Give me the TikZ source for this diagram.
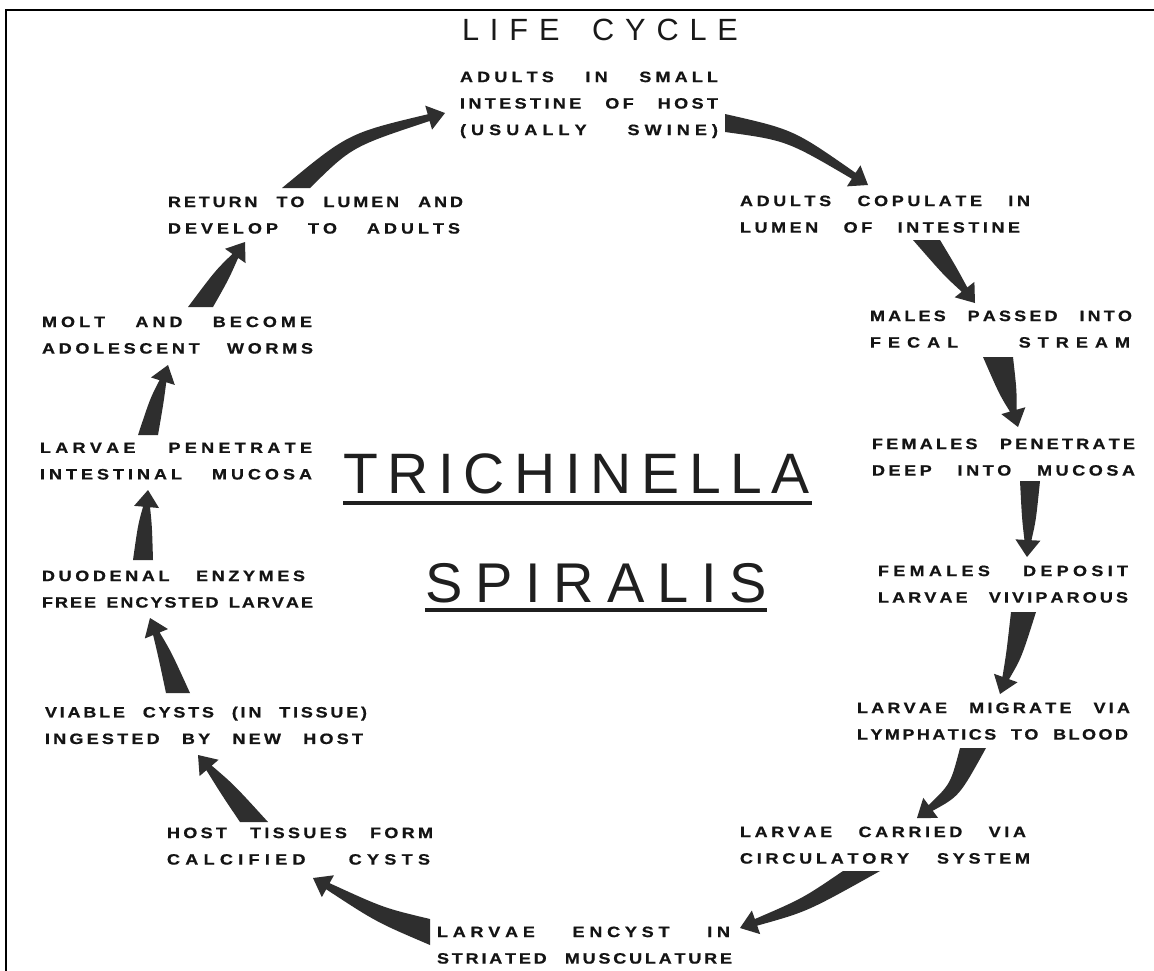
\documentclass[tikz,border=0pt]{standalone}
\usepackage{fontspec}
\setmainfont{Liberation Sans}
\newfontfamily\lblfont{Liberation Sans}[FakeStretch=1.2, BoldFeatures={FakeBold=0.8}]
\usetikzlibrary{calc}

\ExplSyntaxOn
\seq_new:N \l__my_words_seq
\skip_new:N \l__my_lg_skip
\skip_new:N \l__my_wg_skip
\NewDocumentCommand \sline { O{1.6pt~plus~0.3fil} O{6pt~plus~3fil} m m }
  {
    \skip_set:Nn \l__my_lg_skip {#1}
    \skip_set:Nn \l__my_wg_skip {#2}
    \seq_set_split:Nnn \l__my_words_seq {~} {#4}
    \hbox_to_wd:nn {#3}
      {
        \seq_map_indexed_inline:Nn \l__my_words_seq
          {
            \int_compare:nNnT {##1} > {1} { \skip_horizontal:N \l__my_wg_skip }
            \tl_map_inline:nn {##2} { ####1 \skip_horizontal:N \l__my_lg_skip }
            \unskip
          }
      }
  }
\ExplSyntaxOff

\newcommand\labeltext[1]{\vbox{\baselineskip=26.5pt\lineskiplimit=-20pt #1}}

% #1 tail corner (left of travel), #2 tail corner (right), #3 bend control, #4 tip, #5 mid half width
\newcommand\fatarrow[5]{%
  \coordinate (tc) at ($(#1)!0.5!(#2)$);
  \coordinate (nk) at ($(#4)!17pt!(#3)$);
  \fill[fat] (#1)
     .. controls ($(#3)!#5!90:(nk)$) .. ($(nk)!3.5pt!90:(#4)$)
     -- ($(nk)!12.5pt!90:(#4)$) -- (#4) -- ($(nk)!12.5pt!-90:(#4)$)
     -- ($(nk)!3.5pt!-90:(#4)$)
     .. controls ($(#3)!#5!-90:(nk)$) .. (#2) -- cycle;
}

\tikzset{
  lbl/.style={anchor=north west, inner sep=0pt, outer sep=0pt,
    font=\lblfont\fontsize{15}{26.5}\selectfont\bfseries, text=black!92},
  ttl/.style={anchor=base west, inner sep=0pt, outer sep=0pt,
    font=\fontsize{30.7}{36}\selectfont, text=black!90},
  big/.style={anchor=base west, inner sep=0pt, outer sep=0pt,
    font=\fontsize{57}{64}\selectfont, text=black!88},
  uline/.style={line width=4pt, black!88},
  fat/.style={fill=black!82},
  frame/.style={line width=2pt, black},
}

\begin{document}
\begin{tikzpicture}[x=1pt, y=-1pt]
\useasboundingbox (0,0) rectangle (1154,970);
\fill[white] (0,0) rectangle (1154,970);
\draw[frame] (5.7,975) -- (5.7,10.3) -- (1160,10.3);

% titles
\node[ttl] (life) at (462,40) {\sline[0pt plus 1fil][0pt plus 3fil]{276pt}{LIFE CYCLE}};
\node[big] (tri) at (343,493) {\sline[0pt plus 1fil][0pt]{467pt}{TRICHINELLA}};
\node[big, font=\fontsize{56}{64}\selectfont] (spi) at (425,602) {\sline[0pt plus 1fil][0pt]{342pt}{SPIRALIS}};
\draw[uline] ($(tri.base west)+(0,10)$) -- ($(tri.base east)+(2,10)$);
\draw[uline] ($(spi.base west)+(0,8)$) -- ($(spi.base east)+(0,8)$);

% labels
\node[lbl] (adults) at (460,71.6) {\labeltext{\sline{258pt}{ADULTS IN SMALL}\sline{258pt}{INTESTINE OF HOST}\sline{258pt}{(USUALLY SWINE)}}};
\node[lbl] (copul) at (740,195.6) {\labeltext{\sline{290pt}{ADULTS COPULATE IN}\sline{280pt}{LUMEN OF INTESTINE}}};
\node[lbl] (males) at (870,310.6) {\labeltext{\sline{262pt}{MALES PASSED INTO}\sline{260pt}{FECAL STREAM}}};
\node[lbl] (fpen) at (872,438.6) {\labeltext{\sline{263pt}{FEMALES PENETRATE}\sline{263pt}{DEEP INTO MUCOSA}}};
\node[lbl] (fdep) at (878,565.6) {\labeltext{\sline{250pt}{FEMALES DEPOSIT}\sline{250pt}{LARVAE VIVIPAROUS}}};
\node[lbl] (migr) at (857,702.6) {\labeltext{\sline{273pt}{LARVAE MIGRATE VIA}\sline{271pt}{LYMPHATICS TO BLOOD}}};
\node[lbl] (carr) at (740,826.6) {\labeltext{\sline{286pt}{LARVAE CARRIED VIA}\sline{290pt}{CIRCULATORY SYSTEM}}};
\node[lbl] (ency) at (437,926.6) {\labeltext{\sline{293pt}{LARVAE ENCYST IN}\sline{295pt}{STRIATED MUSCULATURE}}};
\node[lbl] (host) at (167,827.6) {\labeltext{\sline{266pt}{HOST TISSUES FORM}\sline{263pt}{CALCIFIED CYSTS}}};
\node[lbl] (viab) at (45,706.6) {\labeltext{\sline{322pt}{VIABLE CYSTS (IN TISSUE)}\sline{318pt}{INGESTED BY NEW HOST}}};
\node[lbl] (duod) at (42,570.6) {\labeltext{\sline{263pt}{DUODENAL ENZYMES}\sline{271pt}{FREE ENCYSTED LARVAE}}};
\node[lbl] (lpen) at (40,442.6) {\labeltext{\sline{272pt}{LARVAE PENETRATE}\sline{272pt}{INTESTINAL MUCOSA}}};
\node[lbl] (molt) at (42,316.6) {\labeltext{\sline{270pt}{MOLT AND BECOME}\sline{271pt}{ADOLESCENT WORMS}}};
\node[lbl] (retu) at (168,196.6) {\labeltext{\sline{295pt}{RETURN TO LUMEN AND}\sline{292pt}{DEVELOP TO ADULTS}}};

% arrow tails (a = left of travel, b = right), bend controls and tips
\coordinate (a1a) at (282,188);  \coordinate (a1b) at (310,188);  \coordinate (a1c) at (350,140);  \coordinate (a1h) at (445,113);
\coordinate (a2a) at (725,114);  \coordinate (a2b) at (725,132);  \coordinate (a2c) at (790,135);  \coordinate (a2h) at (868,185);
\coordinate (a3a) at (940,240);  \coordinate (a3b) at (913,240);  \coordinate (a3c) at (950,271);  \coordinate (a3h) at (975,303);
\coordinate (a4a) at (1013,357); \coordinate (a4b) at (983,357);  \coordinate (a4c) at (1008,392); \coordinate (a4h) at (1018,427);
\coordinate (a5a) at (1040,481); \coordinate (a5b) at (1020,481); \coordinate (a5c) at (1029,520); \coordinate (a5h) at (1027,557);
\coordinate (a6a) at (1036,612); \coordinate (a6b) at (1011,612); \coordinate (a6c) at (1014,655); \coordinate (a6h) at (1000,694);
\coordinate (a7a) at (986,748);  \coordinate (a7b) at (960,748);  \coordinate (a7c) at (955,790);  \coordinate (a7h) at (917,818);
\coordinate (a8a) at (880,871);  \coordinate (a8b) at (843,871);  \coordinate (a8c) at (805,905);  \coordinate (a8h) at (740,928);
\coordinate (a9a) at (430,945);  \coordinate (a9b) at (430,919);  \coordinate (a9c) at (380,915);  \coordinate (a9h) at (313,878);
\coordinate (a10a) at (240,822); \coordinate (a10b) at (268,822); \coordinate (a10c) at (228,790); \coordinate (a10h) at (198,755);
\coordinate (a11a) at (166,693); \coordinate (a11b) at (190,693); \coordinate (a11c) at (165,655); \coordinate (a11h) at (150,618);
\coordinate (a12a) at (133,560); \coordinate (a12b) at (153,560); \coordinate (a12c) at (145,525); \coordinate (a12h) at (148,490);
\coordinate (a13a) at (138,435); \coordinate (a13b) at (158,435); \coordinate (a13c) at (157,400); \coordinate (a13h) at (168,365);
\coordinate (a14a) at (188,307); \coordinate (a14b) at (213,307); \coordinate (a14c) at (222,275); \coordinate (a14h) at (245,242);

\fatarrow{a1a}{a1b}{a1c}{a1h}{7pt}
\fatarrow{a2a}{a2b}{a2c}{a2h}{6.5pt}
\fatarrow{a3a}{a3b}{a3c}{a3h}{7.5pt}
\fatarrow{a4a}{a4b}{a4c}{a4h}{9pt}
\fatarrow{a5a}{a5b}{a5c}{a5h}{7pt}
\fatarrow{a6a}{a6b}{a6c}{a6h}{8pt}
\fatarrow{a7a}{a7b}{a7c}{a7h}{7.5pt}
\fatarrow{a8a}{a8b}{a8c}{a8h}{7pt}
\fatarrow{a9a}{a9b}{a9c}{a9h}{8pt}
\fatarrow{a10a}{a10b}{a10c}{a10h}{8pt}
\fatarrow{a11a}{a11b}{a11c}{a11h}{7pt}
\fatarrow{a12a}{a12b}{a12c}{a12h}{7pt}
\fatarrow{a13a}{a13b}{a13c}{a13h}{7pt}
\fatarrow{a14a}{a14b}{a14c}{a14h}{8pt}
\end{tikzpicture}
\end{document}
